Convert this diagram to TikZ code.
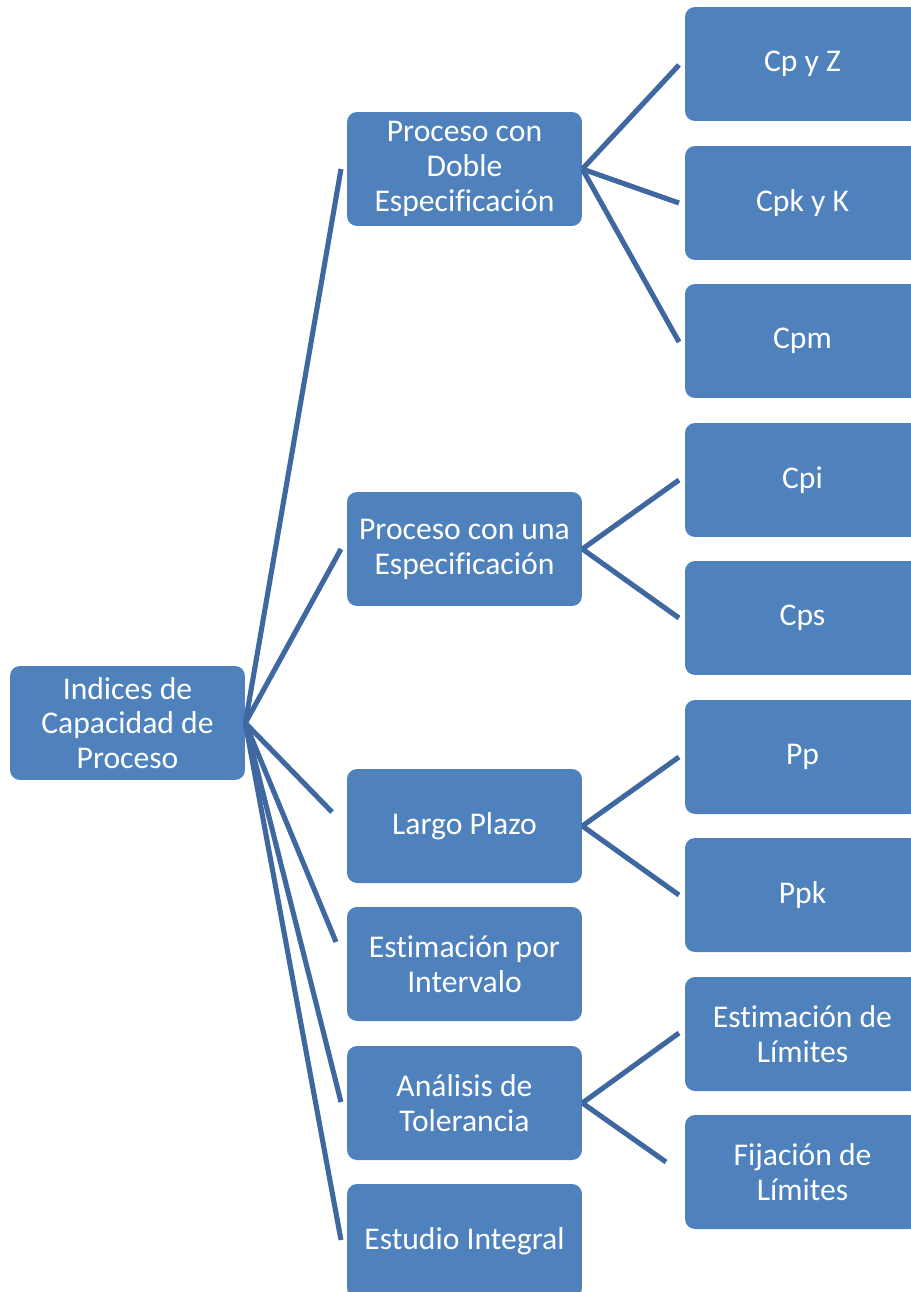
\documentclass[tikz,border=0pt]{standalone}
\usepackage{fontspec}
\setmainfont{Carlito}[Ligatures=NoCommon]
\usetikzlibrary{positioning}
\definecolor{boxblue}{RGB}{79,129,189}
\definecolor{lineblue}{RGB}{64,104,160}
\tikzset
{
    idxnode/.style = {rectangle, rounded corners=0.2cm, fill=boxblue, draw=none, text=white, align=center, minimum width=4.7cm, minimum height=2.28cm, inner sep=0pt, font=\fontsize{18}{19.8}\selectfont},
    link/.style = {draw=lineblue, line width=2.9pt}
}

\begin{document}
\begin{tikzpicture}[x=0.02cm, y=-0.02cm]
\useasboundingbox (0,0) rectangle (911,1292);
\clip (0,0) rectangle (911,1292);
% root
\node[idxnode] (root) at (127.5,723) {Indices de\\Capacidad de\\Proceso};
% level 1
\node[idxnode] (doble) at (464.5,169) {Proceso con\\Doble\\Especificación};
\node[idxnode] (una) at (464.5,549) {Proceso con una\\Especificación};
\node[idxnode] (largo) at (464.5,826) {Largo Plazo};
\node[idxnode] (intervalo) at (464.5,964) {Estimación por\\Intervalo};
\node[idxnode] (tolerancia) at (464.5,1103) {Análisis de\\Tolerancia};
\node[idxnode] (integral) at (464.5,1241) {Estudio Integral};
% level 2
\node[idxnode] (cpz) at (802.5,64) {Cp y Z};
\node[idxnode] (cpk) at (802.5,203) {Cpk y K};
\node[idxnode] (cpm) at (802.5,341) {Cpm};
\node[idxnode] (cpi) at (802.5,480) {Cpi};
\node[idxnode] (cps) at (802.5,618) {Cps};
\node[idxnode] (pp) at (802.5,757) {Pp};
\node[idxnode] (ppk) at (802.5,895) {Ppk};
\node[idxnode] (estlim) at (802.5,1034) {Estimación de\\Límites};
\node[idxnode] (fijlim) at (802.5,1172) {Fijación de\\Límites};
% connector ends
\coordinate (toDoble) at (341,169);
\coordinate (toUna) at (341,549);
\coordinate (toLargo) at (332,812);
\coordinate (toIntervalo) at (336,942);
\coordinate (toTolerancia) at (341,1102);
\coordinate (toIntegral) at (341,1240);
\coordinate (toCpz) at (679,65);
\coordinate (toCpk) at (679,203);
\coordinate (toCpm) at (679,342);
\coordinate (toCpi) at (679,480);
\coordinate (toCps) at (679,618);
\coordinate (toPp) at (679,757);
\coordinate (toPpk) at (679,895);
\coordinate (toEstlim) at (679,1033);
\coordinate (toFijlim) at (666,1162);
% connectors
\draw[link] (root.east) -- (toDoble);
\draw[link] (root.east) -- (toUna);
\draw[link] (root.east) -- (toLargo);
\draw[link] (root.east) -- (toIntervalo);
\draw[link] (root.east) -- (toTolerancia);
\draw[link] (root.east) -- (toIntegral);
\draw[link] (doble.east) -- (toCpz);
\draw[link] (doble.east) -- (toCpk);
\draw[link] (doble.east) -- (toCpm);
\draw[link] (una.east) -- (toCpi);
\draw[link] (una.east) -- (toCps);
\draw[link] (largo.east) -- (toPp);
\draw[link] (largo.east) -- (toPpk);
\draw[link] (tolerancia.east) -- (toEstlim);
\draw[link] (tolerancia.east) -- (toFijlim);
\end{tikzpicture}
\end{document}
